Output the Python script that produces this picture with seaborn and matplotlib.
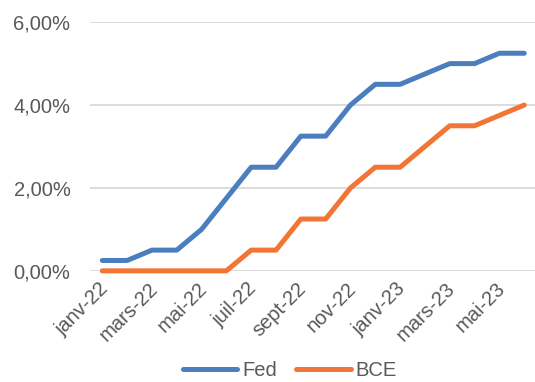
import matplotlib
matplotlib.use("Agg")
import matplotlib.pyplot as plt
import matplotlib.transforms as mtransforms
import seaborn as sns
import pandas as pd
from matplotlib.ticker import FuncFormatter
from matplotlib.lines import Line2D

months = ["janv-22", "févr-22", "mars-22", "avr-22", "mai-22", "juin-22", "juil-22", "août-22",
          "sept-22", "oct-22", "nov-22", "déc-22", "janv-23", "févr-23", "mars-23", "avr-23",
          "mai-23", "juin-23"]
fed = [0.25, 0.25, 0.5, 0.5, 1.0, 1.75, 2.5, 2.5, 3.25, 3.25, 4.0, 4.5, 4.5, 4.75, 5.0, 5.0, 5.25, 5.25]
bce = [0, 0, 0, 0, 0, 0, 0.5, 0.5, 1.25, 1.25, 2.0, 2.5, 2.5, 3.0, 3.5, 3.5, 3.75, 4.0]
series_names = ["Fed", "BCE"]
colors = ["#4A7EBF", "#F27536"]

df = pd.DataFrame({"mois": list(range(len(months))) * 2,
                   "taux": fed + bce,
                   "serie": [series_names[0]] * len(months) + [series_names[1]] * len(months)})

sns.set_style("white")
plt.rcParams["font.family"] = ["Liberation Sans", "DejaVu Sans"]

fig = plt.figure(figsize=(5.35, 3.82), dpi=100)
ax = fig.add_axes([0.168, 0.291, 0.835, 0.651])
sns.lineplot(data=df, x="mois", y="taux", hue="serie", palette=colors, linewidth=3.6,
             ax=ax, legend=False)
for l in ax.lines:
    l.set_solid_capstyle("round")
    l.set_solid_joinstyle("round")
    l.set_clip_on(False)

ax.set_xlim(-0.5, len(months) - 0.5)
ax.set_ylim(0, 6)
ax.set_yticks([0, 2, 4, 6])
ax.yaxis.set_major_formatter(FuncFormatter(lambda v, p: f"{v:.2f}".replace(".", ",") + "%"))
ax.set_xticks(range(0, len(months), 2))
ax.set_xticklabels(months[::2], rotation=45, ha="right", rotation_mode="anchor")
ax.tick_params(axis="both", colors="#595959", labelsize=14.5, length=0)
ax.tick_params(axis="y", pad=14)
ax.tick_params(axis="x", pad=6)
offset = mtransforms.ScaledTranslation(-4 / 100, 0, fig.dpi_scale_trans)
for lab in ax.get_xticklabels():
    lab.set_transform(lab.get_transform() + offset)
ax.grid(axis="y", color="#D9D9D9", linewidth=1.3)
ax.set_axisbelow(True)
for s in ax.spines.values():
    s.set_visible(False)
ax.set_xlabel("")
ax.set_ylabel("")

handles = [Line2D([], [], color=c, linewidth=3.6, solid_capstyle="round") for c in colors]
fig.legend(handles, series_names, loc="center", bbox_to_anchor=(0.542, 0.03), ncol=2,
           frameon=False, fontsize=14.5, labelcolor="#595959", handlelength=2.7,
           handletextpad=0.25, columnspacing=0.95)

fig.savefig("out.png", dpi=100)
